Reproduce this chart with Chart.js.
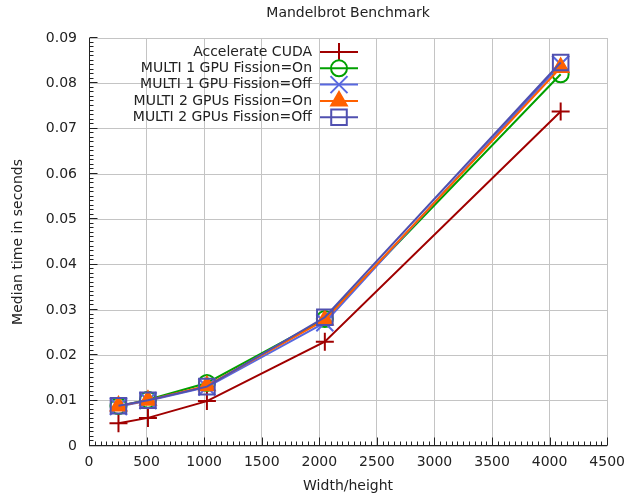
<!DOCTYPE html>
<html>
<head>
<meta charset="utf-8">
<script src="https://cdn.jsdelivr.net/npm/chart.js@4/dist/chart.umd.min.js"></script>
<style>
    body { margin: 0; background: #fff; }
    #contenedor { width: 633px; height: 495px; }
</style>
</head>
<body>
<div id="contenedor"><canvas id="graficoMandelbrot" width="633" height="495"></canvas></div>
<script>
// datos
let tamanos = [256, 512, 1024, 2048, 4096];
let nombres = [
    "Accelerate CUDA",
    "MULTI 1 GPU Fission=On",
    "MULTI 1 GPU Fission=Off",
    "MULTI 2 GPUs Fission=On",
    "MULTI 2 GPUs Fission=Off"
];
let accelerateCuda = [0.0050, 0.0062, 0.0099, 0.0230, 0.0738];
let multi1On  = [0.0088, 0.0102, 0.0139, 0.0280, 0.0820];
let multi1Off = [0.0087, 0.0100, 0.0130, 0.0272, 0.0842];
let multi2On  = [0.0088, 0.0101, 0.0133, 0.0278, 0.0835];
let multi2Off = [0.0089, 0.0101, 0.0131, 0.0284, 0.0846];
let xTicks = ["0", "500", "1000", "1500", "2000", "2500", "3000", "3500", "4000", "4500"];
let yTicks = ["0", "0.01", "0.02", "0.03", "0.04", "0.05", "0.06", "0.07", "0.08", "0.09"];
let titulo = "Mandelbrot Benchmark";
let tituloX = "Width/height";
let tituloY = "Median time in seconds";

let series = [accelerateCuda, multi1On, multi1Off, multi2On, multi2Off];
let colores = ["#a00000", "#00a000", "#5868e0", "#ff6000", "#5050b0"];
let simbolos = ["cross", "circle", "crossRot", "triangle", "rect"];
let radios = [9, 8, 12, 9, 11];
let rellenos = ["rgba(0,0,0,0)", "rgba(0,0,0,0)", "rgba(0,0,0,0)", "#ff6000", "rgba(0,0,0,0)"];

let fuente = "'DejaVu Sans', sans-serif";

function puntos(valores) {
    return valores.map((v, i) => ({ x: tamanos[i], y: v }));
}

let datasets = series.map((s, i) => ({
    label: nombres[i],
    data: puntos(s),
    borderColor: colores[i],
    backgroundColor: rellenos[i],
    borderWidth: 2,
    pointStyle: simbolos[i],
    pointRadius: radios[i],
    pointHoverRadius: radios[i],
    pointBorderWidth: 2,
    pointBorderColor: colores[i],
    pointBackgroundColor: rellenos[i],
    tension: 0,
    fill: false,
    order: 4 - i
}));

// ejes estilo gnuplot: borde, ticks menores hacia dentro, titulo y leyenda
let estiloGnuplot = {
    id: "estiloGnuplot",
    afterDatasetsDraw(chart) {
        let ctx = chart.ctx;
        let a = chart.chartArea;
        let sx = chart.scales.x;
        let sy = chart.scales.y;
        let L = Math.round(a.left) + 0.5;
        let B = Math.round(a.bottom) - 0.5;

        ctx.save();
        ctx.strokeStyle = "#222";
        ctx.lineWidth = 1;
        ctx.beginPath();
        ctx.moveTo(L, Math.round(a.top));
        ctx.lineTo(L, B);
        ctx.lineTo(Math.round(a.right), B);
        ctx.stroke();

        ctx.beginPath();
        for (let v = 0; v <= 4500; v += 50) {
            let px = Math.round(sx.getPixelForValue(v)) + 0.5;
            let largo = (v % 500 === 0) ? 8 : 4;
            ctx.moveTo(px, B);
            ctx.lineTo(px, B - largo);
        }
        for (let k = 0; k <= 90; k++) {
            let py = Math.round(sy.getPixelForValue(k / 1000)) - 0.5;
            let largo = (k % 10 === 0) ? 8 : 4;
            ctx.moveTo(L, py);
            ctx.lineTo(L + largo, py);
        }
        ctx.stroke();

        // titulo
        ctx.fillStyle = "#222";
        ctx.font = "14px " + fuente;
        ctx.textAlign = "center";
        ctx.textBaseline = "middle";
        ctx.fillText(titulo, (a.left + a.right) / 2, 13);

        // leyenda
        ctx.textAlign = "right";
        chart.data.datasets.forEach((d, i) => {
            let y = 52 + i * 16.3;
            ctx.fillStyle = "#222";
            ctx.fillText(d.label, 312, y);
            ctx.strokeStyle = d.borderColor;
            ctx.lineWidth = 2;
            ctx.beginPath();
            ctx.moveTo(320, y);
            ctx.lineTo(358, y);
            ctx.stroke();
            ctx.fillStyle = d.pointBackgroundColor;
            Chart.helpers.drawPoint(ctx, {
                pointStyle: d.pointStyle,
                rotation: 0,
                radius: d.pointRadius,
                borderWidth: 2
            }, 339, y);
        });
        ctx.restore();
    }
};

new Chart(document.getElementById("graficoMandelbrot"), {
    type: "line",
    data: { datasets: datasets },
    options: {
        responsive: false,
        devicePixelRatio: 1,
        animation: false,
        layout: { padding: { top: 38, right: 20, bottom: 0, left: 0 } },
        plugins: {
            legend: { display: false },
            title: { display: false },
            tooltip: { enabled: false }
        },
        scales: {
            x: {
                type: "linear",
                min: 0,
                max: 4500,
                afterFit: s => { s.height = 49; },
                ticks: {
                    stepSize: 500,
                    padding: 8,
                    color: "#222",
                    font: { family: fuente, size: 14 },
                    maxRotation: 0,
                    callback: (v, i) => xTicks[i]
                },
                grid: { color: "#c4c4c4", drawTicks: false },
                border: { display: false },
                title: {
                    display: true,
                    text: tituloX,
                    color: "#222",
                    font: { family: fuente, size: 14 },
                    padding: { top: 0, bottom: 0 }
                }
            },
            y: {
                min: 0,
                max: 0.09,
                afterFit: s => { s.width = 89; },
                ticks: {
                    stepSize: 0.01,
                    padding: 12,
                    color: "#222",
                    font: { family: fuente, size: 14 },
                    callback: (v, i) => yTicks[i]
                },
                grid: { color: "#c4c4c4", drawTicks: false },
                border: { display: false },
                title: {
                    display: true,
                    text: tituloY,
                    color: "#222",
                    font: { family: fuente, size: 14 },
                    padding: { top: 10, bottom: 0 }
                }
            }
        }
    },
    plugins: [estiloGnuplot]
});
</script>
</body>
</html>
